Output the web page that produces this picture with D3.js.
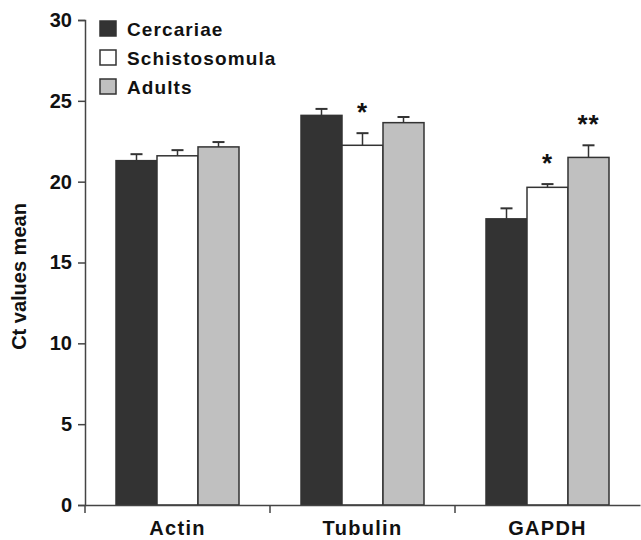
<!DOCTYPE html>
<html>
<head>
<meta charset="utf-8">
<script src="https://cdn.jsdelivr.net/npm/d3@7"></script>
<style>
  body { margin: 0; background: #fff; }
  text { font-family: "Liberation Sans", Arial, sans-serif; font-weight: bold; fill: #111; }
</style>
</head>
<body>
<script>
// Chart data
var genes = ["Actin", "Tubulin", "GAPDH"];
var stages = ["Cercariae", "Schistosomula", "Adults"];
var stageColors = ["#333333", "#ffffff", "#c0c0c0"];
// mean Ct per gene, one array per stage
var cercariae = [21.3, 24.1, 17.7];
var schistosomula = [21.6, 22.25, 19.65];
var adults = [22.15, 23.65, 21.5];
// error bar (upper) sizes
var errCercariae = [0.4, 0.4, 0.65];
var errSchisto = [0.35, 0.75, 0.2];
var errAdults = [0.3, 0.35, 0.75];
// significance marks
var sigSchisto = ["", "*", "*"];
var sigAdults = ["", "", "**"];
var yTicks = [0, 5, 10, 15, 20, 25, 30];

var svgWidth = 641;
var svgHeight = 540;
var margin = { top: 20, right: 1, bottom: 35, left: 85 };
var width = svgWidth - margin.left - margin.right;
var height = svgHeight - margin.top - margin.bottom;

var svg = d3.select("body").append("svg")
  .attr("width", svgWidth)
  .attr("height", svgHeight);

var chartGroup = svg.append("g")
  .attr("transform", `translate(${margin.left}, ${margin.top})`);

var x0 = d3.scaleBand().domain(genes).range([0, width]).paddingInner(0).paddingOuter(0);
var x1 = d3.scaleBand().domain(stages).range([31, x0.bandwidth() - 31]);
var y = d3.scaleLinear().domain([0, 30]).range([height, 0]);

var series = [cercariae, schistosomula, adults];
var errs = [errCercariae, errSchisto, errAdults];
var sigs = [null, sigSchisto, sigAdults];

var rows = [];
genes.forEach(function(g, gi) {
  stages.forEach(function(s, si) {
    rows.push({ gene: g, stage: s, si: si, value: series[si][gi], err: errs[si][gi],
                sig: sigs[si] ? sigs[si][gi] : "" });
  });
});

// bars
chartGroup.selectAll("rect.bar")
  .data(rows)
  .enter()
  .append("rect")
  .attr("class", "bar")
  .attr("x", d => x0(d.gene) + x1(d.stage))
  .attr("y", d => y(d.value))
  .attr("width", x1.bandwidth())
  .attr("height", d => height - y(d.value))
  .attr("fill", d => stageColors[d.si])
  .attr("stroke", "#333")
  .attr("stroke-width", 1.5);

// error bars
var eb = chartGroup.selectAll("g.err")
  .data(rows)
  .enter()
  .append("g")
  .attr("class", "err")
  .attr("transform", d => `translate(${x0(d.gene) + x1(d.stage) + x1.bandwidth() / 2}, 0)`);

eb.append("line")
  .attr("x1", 0).attr("x2", 0)
  .attr("y1", d => y(d.value))
  .attr("y2", d => y(d.value + d.err))
  .attr("stroke", "#333").attr("stroke-width", 1.5);

eb.append("line")
  .attr("x1", -6).attr("x2", 6)
  .attr("y1", d => y(d.value + d.err))
  .attr("y2", d => y(d.value + d.err))
  .attr("stroke", "#333").attr("stroke-width", 2);

eb.filter(d => d.sig)
  .append("text")
  .attr("y", d => y(d.value + d.err) - 12)
  .attr("text-anchor", "middle")
  .style("font-size", "26px")
  .style("letter-spacing", "1px")
  .text(d => d.sig);

// y axis
var yAxis = chartGroup.append("g")
  .call(d3.axisLeft(y).tickValues(yTicks).tickSize(7).tickPadding(6));
yAxis.selectAll("text").style("font-size", "20px");

// x axis
var xAxis = chartGroup.append("g")
  .attr("transform", `translate(0, ${height})`)
  .call(d3.axisBottom(x0).tickSize(0).tickPadding(16));
xAxis.selectAll("text").style("font-size", "20px").style("letter-spacing", "1.3px");

// category boundary ticks
xAxis.selectAll("line.sep")
  .data(genes.slice(1).concat(["_start"]))
  .enter()
  .append("line")
  .attr("class", "sep")
  .attr("x1", d => d === "_start" ? 0 : x0(d))
  .attr("x2", d => d === "_start" ? 0 : x0(d))
  .attr("y1", 0).attr("y2", 8)
  .attr("stroke", "#444").attr("stroke-width", 1.5);

svg.selectAll(".domain").attr("stroke", "#444").attr("stroke-width", 1.5);
svg.selectAll(".tick line").attr("stroke", "#444").attr("stroke-width", 1.5);

// y axis title
chartGroup.append("text")
  .attr("transform", `translate(-59, ${height / 2 + 14}) rotate(-90)`)
  .attr("text-anchor", "middle")
  .style("font-size", "20px")
  .text("Ct values mean");

// legend
var legend = chartGroup.selectAll("g.legend")
  .data(stages)
  .enter()
  .append("g")
  .attr("class", "legend")
  .attr("transform", (d, i) => `translate(15, ${1 + i * 29})`);

legend.append("rect")
  .attr("width", 16).attr("height", 15)
  .attr("fill", (d, i) => stageColors[i])
  .attr("stroke", "#333").attr("stroke-width", 1.5);

legend.append("text")
  .attr("x", 27).attr("y", 15)
  .style("font-size", "19px")
  .style("letter-spacing", "1.1px")
  .text(d => d);
</script>
</body>
</html>
